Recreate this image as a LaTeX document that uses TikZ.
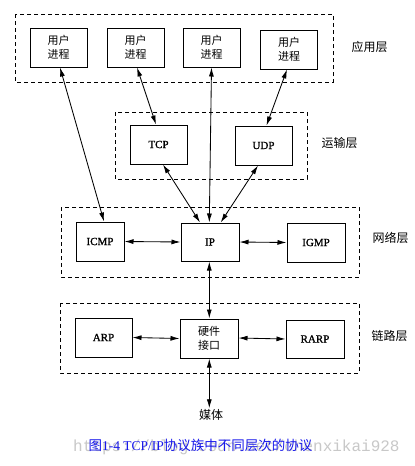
\documentclass[tikz,border=0pt]{standalone}
\usepackage{fontspec}
\setmainfont{Liberation Serif}[BoldFont={Liberation Serif},BoldFeatures={FakeBold=1.2}]
\newfontfamily\cjk{Noto Sans CJK SC}
\newfontfamily\wmfont{Liberation Mono}
\usetikzlibrary{arrows.meta}
\definecolor{capblue}{RGB}{25,25,235}
\definecolor{wmgray}{RGB}{200,200,200}
\begin{document}
\begin{tikzpicture}[x=1pt,y=-1pt,
  proto/.style={draw,line width=1pt,minimum width=57pt,minimum height=39pt,inner sep=0pt,font=\bfseries\fontsize{11}{12}\selectfont},
  proc/.style={proto,align=center,font=\cjk\fontsize{11}{14}\selectfont},
  layer/.style={draw,line width=0.85pt,dash pattern=on 4pt off 3pt},
  layerlabel/.style={font=\cjk\fontsize{12}{14}\selectfont},
  conn/.style={line width=0.85pt,{Latex[length=9pt,width=5pt]}-{Latex[length=9pt,width=5pt]}}
]
\useasboundingbox[fill=white] (0,0) rectangle (415,466);

% layer frames
\draw[layer] (15,14) rectangle (333,82);
\draw[layer] (115,112) rectangle (307,179);
\draw[layer] (61,207) rectangle (359,277);
\draw[layer] (60,303) rectangle (359,373);

% layer labels
\node[layerlabel] (lapp) at (369.5,47) {应用层};
\node[layerlabel] (ltrans) at (339.5,143) {运输层};
\node[layerlabel] (lnet) at (390.5,238) {网络层};
\node[layerlabel] (llink) at (389.5,336) {链路层};

% application processes
\node[proc] (u1) at (58.5,47.5) {用户\\进程};
\node[proc] (u2) at (135.5,47.5) {用户\\进程};
\node[proc] (u3) at (211.5,47.5) {用户\\进程};
\node[proc] (u4) at (289,49.5) {用户\\进程};

% transport
\node[proto] (tcp) at (158.5,144.5) {TCP};
\node[proto] (udp) at (263.5,145.5) {UDP};

% network
\node[proto,minimum width=48pt] (icmp) at (100,241.5) {ICMP};
\node[proto,minimum width=58pt,minimum height=38pt] (ip) at (210,242) {IP};
\node[proto,minimum width=58pt] (igmp) at (316,242.5) {IGMP};

% link
\node[proto] (arp) at (103.5,337.5) {ARP};
\node[proc,minimum width=58pt] (hw) at (209,338.5) {硬件\\接口};
\node[proto,minimum width=58pt,minimum height=38pt] (rarp) at (315,339) {RARP};

% medium
\node[font=\cjk\fontsize{12}{14}\selectfont,inner sep=1pt] (media) at (211,415) {媒体};

% connectors
\draw[conn] ([xshift=1.5pt]u1.south) -- ([xshift=4pt]icmp.north);
\draw[conn] ([xshift=1.5pt]u2.south) -- ([xshift=-2.5pt]tcp.north);
\draw[conn] ([xshift=0pt]u3.south) -- ([xshift=-0.7pt]ip.north);
\draw[conn] ([xshift=-2pt]u4.south) -- ([xshift=3pt]udp.north);
\draw[conn] ([xshift=4.5pt]tcp.south) -- ([xshift=-10pt]ip.north);
\draw[conn] ([xshift=-5.5pt]udp.south) -- ([xshift=10.7pt]ip.north);
\draw[conn] (icmp.east) -- (ip.west);
\draw[conn] (ip.east) -- (igmp.west);
\draw[conn] ([xshift=-0.7pt]ip.south) -- ([xshift=0.3pt]hw.north);
\draw[conn] (arp.east) -- (hw.west);
\draw[conn] ([yshift=0.5pt]hw.east) -- (rarp.west);
\draw[conn] ([xshift=0.3pt]hw.south) -- ([xshift=0.3pt]hw.south |- media.north);

% watermark and caption
\node[anchor=west,inner sep=0pt,text=wmgray,font=\wmfont\fontsize{16}{18}\selectfont] (wm) at (73,447) {https://blog.csdn.net/chenxikai928};
\node[text=capblue,inner sep=0pt,font=\fontsize{13.5}{15}\selectfont] (cap) at (200.5,445) {{\cjk 图}1-4\ TCP/IP{\cjk 协议族中不同层次的协议}};
\end{tikzpicture}
\end{document}
